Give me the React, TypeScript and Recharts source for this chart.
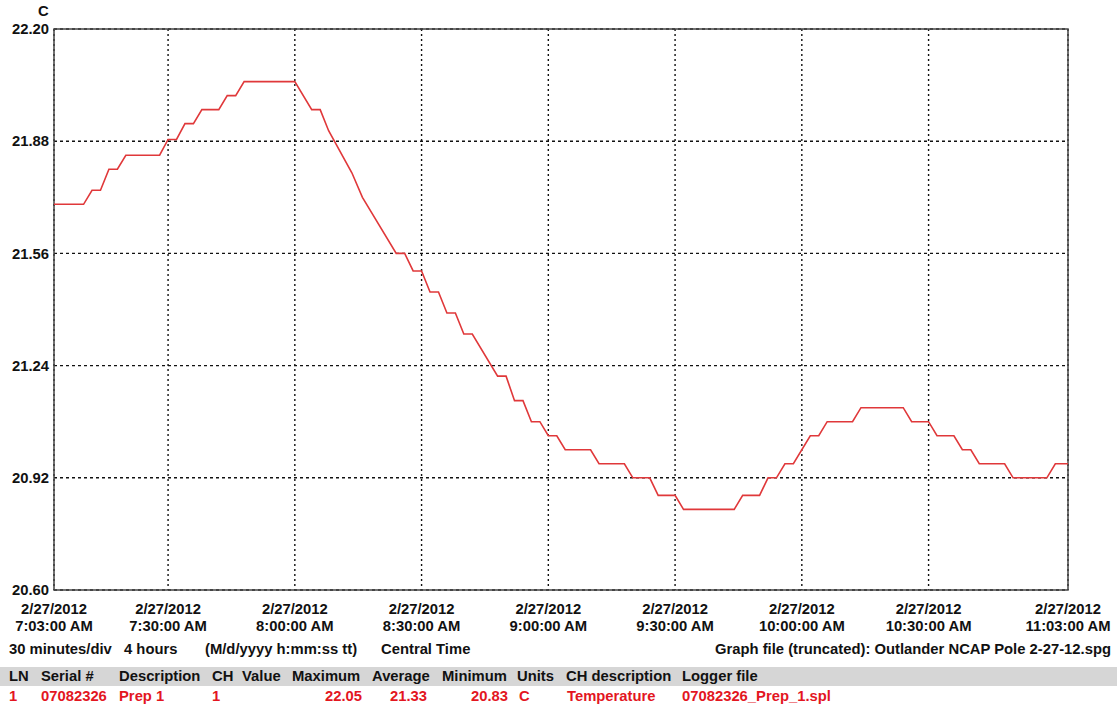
import React from 'react';
import { LineChart, Line, XAxis, YAxis, CartesianGrid, ReferenceArea } from 'recharts';

const times = [
  423, 430, 432, 434, 436, 438, 440, 448, 450, 452, 454, 456, 458, 462, 464, 466, 468, 480,
  484, 486, 488, 493.5, 496, 504, 506, 508, 510, 512, 514, 516, 518, 520, 522, 528, 530, 532,
  534, 536, 538, 540, 542, 544, 550, 552, 558, 560, 564, 566, 570, 572, 584, 586, 590, 592,
  594, 596, 598, 602, 604, 606, 612, 614, 624, 626, 630, 632, 636, 638, 640, 642, 648, 650,
  658, 660, 663,
];
const temps = [
  21.7, 21.7, 21.74, 21.74, 21.8, 21.8, 21.84, 21.84, 21.885, 21.885, 21.93, 21.93, 21.97, 21.97,
  22.01, 22.01, 22.05, 22.05,
  21.97, 21.97, 21.91, 21.79, 21.72, 21.56, 21.56, 21.51, 21.51, 21.45, 21.45, 21.39, 21.39,
  21.33, 21.33, 21.21, 21.21, 21.14,
  21.14, 21.08, 21.08, 21.04, 21.04, 21.0, 21.0, 20.96, 20.96, 20.92, 20.92, 20.87, 20.87,
  20.83, 20.83, 20.87, 20.87, 20.92,
  20.92, 20.96, 20.96, 21.04, 21.04, 21.08, 21.08, 21.12, 21.12, 21.08, 21.08, 21.04, 21.04,
  21.0, 21.0, 20.96, 20.96, 20.92,
  20.92, 20.96, 20.96,
];

const xTicks = [423, 450, 480, 510, 540, 570, 600, 630, 663];
const xTickLabels = [
  '7:03:00 AM', '7:30:00 AM', '8:00:00 AM', '8:30:00 AM', '9:00:00 AM',
  '9:30:00 AM', '10:00:00 AM', '10:30:00 AM', '11:03:00 AM',
];
const dateLabel = '2/27/2012';
const yTicks = [20.6, 20.92, 21.24, 21.56, 21.88, 22.2];

const data = times.map((t, i) => ({ t, temp: temps[i] }));

const FONT = '"Liberation Sans", Arial, Helvetica, sans-serif';
const RED = '#e3161f';
const FS = 14.8;

function TimeTick(props: any) {
  const { x, y, payload } = props;
  const i = xTicks.indexOf(payload.value);
  return (
    <text x={x} y={y} textAnchor="middle" fontSize={FS} fontWeight="bold" fill="#111">
      <tspan x={x} dy={24}>{dateLabel}</tspan>
      <tspan x={x} dy={17}>{xTickLabels[i]}</tspan>
    </text>
  );
}

const txt = (left: number, top: number, s: string, color = '#111') => (
  <span key={s + left + top} style={{ position: 'absolute', left, top, color, whiteSpace: 'nowrap' }}>
    {s}
  </span>
);
const txtR = (right: number, top: number, s: string, color = '#111') => (
  <span
    key={s + right + top}
    style={{ position: 'absolute', right: 1117 - right, top, color, whiteSpace: 'nowrap' }}
  >
    {s}
  </span>
);

export default function App() {
  return (
    <div
      style={{
        position: 'absolute',
        left: 0,
        top: 0,
        width: 1117,
        height: 709,
        background: '#fff',
        fontFamily: FONT,
        fontWeight: 'bold',
        fontSize: FS,
        lineHeight: '17px',
        overflow: 'hidden',
      }}
    >
      <LineChart width={1117} height={709} data={data} margin={{ top: 29, right: 49, left: 4, bottom: 79 }}>
        <CartesianGrid horizontal={false} stroke="#111" strokeWidth={1.4} strokeDasharray="2 3" />
        <CartesianGrid vertical={false} stroke="#111" strokeWidth={1.4} strokeDasharray="3 3" />
        <XAxis
          dataKey="t"
          type="number"
          domain={[423, 663]}
          ticks={xTicks}
          interval={0}
          height={40}
          axisLine={false}
          tickLine={false}
          tickSize={0}
          tickMargin={0}
          tick={<TimeTick />}
        />
        <YAxis
          type="number"
          domain={[20.6, 22.2]}
          ticks={yTicks}
          interval={0}
          width={50}
          axisLine={false}
          tickLine={false}
          tickSize={0}
          tickMargin={5}
          tickFormatter={(v: number) => v.toFixed(2)}
          tick={{ fontSize: FS, fontWeight: 'bold', fill: '#111' }}
        />
        <ReferenceArea x1={423} x2={663} y1={20.6} y2={22.2} fill="none" stroke="#444" strokeWidth={1.5} />
        <Line
          type="linear"
          dataKey="temp"
          stroke="#e0383a"
          strokeWidth={1.6}
          dot={false}
          isAnimationActive={false}
        />
      </LineChart>

      {txt(38, 3, 'C')}

      {txt(9, 641, '30 minutes/div')}
      {txt(124, 641, '4 hours')}
      {txt(205, 641, '(M/d/yyyy h:mm:ss tt)')}
      {txt(381, 641, 'Central Time')}
      {txtR(1111, 641, 'Graph file (truncated): Outlander NCAP Pole 2-27-12.spg')}

      <div style={{ position: 'absolute', left: 0, top: 667, width: 1117, height: 19, background: '#d6d6d6' }} />
      {txt(9, 668, 'LN')}
      {txt(41, 668, 'Serial #')}
      {txt(119, 668, 'Description')}
      {txt(212, 668, 'CH')}
      {txt(242, 668, 'Value')}
      {txt(292, 668, 'Maximum')}
      {txt(372, 668, 'Average')}
      {txt(442, 668, 'Minimum')}
      {txt(517, 668, 'Units')}
      {txt(566, 668, 'CH description')}
      {txt(682, 668, 'Logger file')}

      {txt(9, 688, '1', RED)}
      {txt(41, 688, '07082326', RED)}
      {txt(119, 688, 'Prep 1', RED)}
      {txt(212, 688, '1', RED)}
      {txtR(362, 688, '22.05', RED)}
      {txt(390, 688, '21.33', RED)}
      {txtR(508, 688, '20.83', RED)}
      {txt(519, 688, 'C', RED)}
      {txt(567, 688, 'Temperature', RED)}
      {txt(682, 688, '07082326_Prep_1.spl', RED)}
    </div>
  );
}
